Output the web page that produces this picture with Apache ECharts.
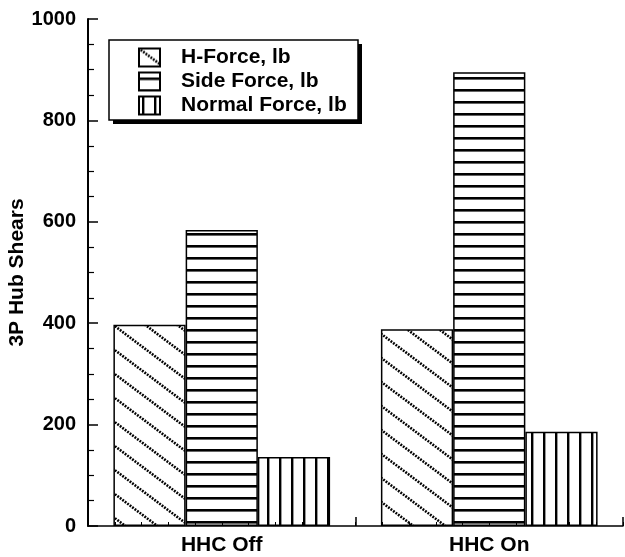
<!DOCTYPE html>
<html>
<head>
<meta charset="utf-8">
<script src="https://cdn.jsdelivr.net/npm/echarts@6/dist/echarts.min.js"></script>
<style>
  html, body { margin: 0; padding: 0; background: #fff; }
  #chart { width: 625px; height: 557px; }
</style>
</head>
<body>
<div id="chart"></div>
<script>
// Categories, series names and values
const categories = ['HHC Off', 'HHC On'];
const seriesNames = ['H-Force, lb', 'Side Force, lb', 'Normal Force, lb'];
const hForce = [397, 388];
const sideForce = [584, 895];
const normalForce = [136, 186];
const yTicks = [0, 200, 400, 600, 800, 1000];

const FONT = '"Liberation Sans", Arial, Helvetica, sans-serif';

// Hatch fills drawn on small canvases and tiled by the renderer
function diagonalHatch() {
  const w = 32, h = 24, steps = 13;
  const c = document.createElement('canvas');
  c.width = w; c.height = h;
  const ctx = c.getContext('2d');
  ctx.fillStyle = '#fff';
  ctx.fillRect(0, 0, w, h);
  ctx.strokeStyle = '#000';
  ctx.lineWidth = 2.6;
  ctx.lineCap = 'butt';
  for (const dx of [-w, 0, w]) {
    for (const dy of [-h, 0, h]) {
      for (let k = 0; k < steps; k++) {
        const cx = k * w / steps + dx, cy = k * h / steps + dy;
        ctx.beginPath();
        ctx.moveTo(cx - 0.75, cy - 0.55);
        ctx.lineTo(cx + 0.75, cy + 0.55);
        ctx.stroke();
      }
    }
  }
  return { image: c, repeat: 'repeat' };
}

function horizontalHatch() {
  const c = document.createElement('canvas');
  c.width = 8; c.height = 12;
  const ctx = c.getContext('2d');
  ctx.fillStyle = '#fff';
  ctx.fillRect(0, 0, 8, 12);
  ctx.fillStyle = '#000';
  ctx.fillRect(0, 5, 8, 2.6);
  return { image: c, repeat: 'repeat' };
}

function verticalHatch() {
  const c = document.createElement('canvas');
  c.width = 12; c.height = 8;
  const ctx = c.getContext('2d');
  ctx.fillStyle = '#fff';
  ctx.fillRect(0, 0, 12, 8);
  ctx.fillStyle = '#000';
  ctx.fillRect(3, 0, 2.4, 8);
  return { image: c, repeat: 'repeat' };
}

const fills = [diagonalHatch(), horizontalHatch(), verticalHatch()];
const values = [hForce, sideForce, normalForce];

// Legend frame geometry (box plus its solid drop shadow)
const legendBox = { x: 109, y: 40, w: 249, h: 80, shadow: 4 };

const chart = echarts.init(document.getElementById('chart'), null, { renderer: 'canvas' });

const option = {
  backgroundColor: '#fff',
  animation: false,
  grid: { left: 88, right: 2, top: 19, bottom: 31, containLabel: false, outerBoundsMode: 'none' },
  graphic: [
    {
      type: 'rect',
      z: 1,
      shape: {
        x: legendBox.x + legendBox.shadow,
        y: legendBox.y + legendBox.shadow,
        width: legendBox.w,
        height: legendBox.h
      },
      style: { fill: '#000' }
    },
    {
      type: 'rect',
      z: 1,
      shape: { x: legendBox.x, y: legendBox.y, width: legendBox.w, height: legendBox.h },
      style: { fill: '#fff', stroke: '#000', lineWidth: 1.5 }
    }
  ],
  legend: {
    orient: 'vertical',
    left: legendBox.x,
    top: legendBox.y,
    data: seriesNames,
    icon: 'rect',
    itemWidth: 21,
    itemHeight: 18,
    itemGap: 3,
    padding: [7, 12, 5, 29],
    selectedMode: false,
    textStyle: {
      color: '#000',
      fontSize: 21,
      fontWeight: 'bold',
      fontFamily: FONT,
      padding: [0, 0, 0, 16]
    }
  },
  xAxis: [
    {
      type: 'category',
      data: categories,
      z: 5,
      axisLine: { lineStyle: { color: '#000', width: 1.5 } },
      axisTick: { show: true, inside: true, length: 9, interval: 0, lineStyle: { color: '#000', width: 1.5 } },
      axisLabel: { color: '#000', fontSize: 21, fontWeight: 'bold', fontFamily: FONT, margin: 9 },
      splitLine: { show: false }
    },
    {
      // fine tick marks along the base line
      type: 'value',
      position: 'bottom',
      min: 0,
      max: 20,
      interval: 1,
      z: 5,
      axisLine: { show: false },
      axisTick: { show: true, inside: true, length: 4, lineStyle: { color: '#000', width: 1 } },
      axisLabel: { show: false },
      splitLine: { show: false }
    }
  ],
  yAxis: {
    type: 'value',
    min: yTicks[0],
    max: yTicks[yTicks.length - 1],
    interval: yTicks[1] - yTicks[0],
    z: 5,
    name: '3P Hub Shears',
    nameLocation: 'middle',
    nameGap: 60,
    nameMoveOverlap: false,
    nameTextStyle: { color: '#000', fontSize: 21, fontWeight: 'bold', fontFamily: FONT },
    axisLine: { show: true, lineStyle: { color: '#000', width: 2 } },
    axisTick: { show: true, inside: true, length: 10, lineStyle: { color: '#000', width: 1.5 } },
    minorTick: { show: true, splitNumber: 4, length: 6, lineStyle: { color: '#000', width: 1.2 } },
    axisLabel: {
      color: '#000', fontSize: 20, fontWeight: 'bold', fontFamily: FONT, margin: 12,
      formatter: (v) => String(v)
    },
    splitLine: { show: false }
  },
  series: seriesNames.map((name, i) => ({
    name: name,
    type: 'bar',
    xAxisIndex: 0,
    data: values[i],
    barGap: '0%',
    barCategoryGap: '19%',
    itemStyle: { color: fills[i], borderColor: '#000', borderWidth: 1.5 }
  }))
};

chart.setOption(option);
</script>
</body>
</html>
